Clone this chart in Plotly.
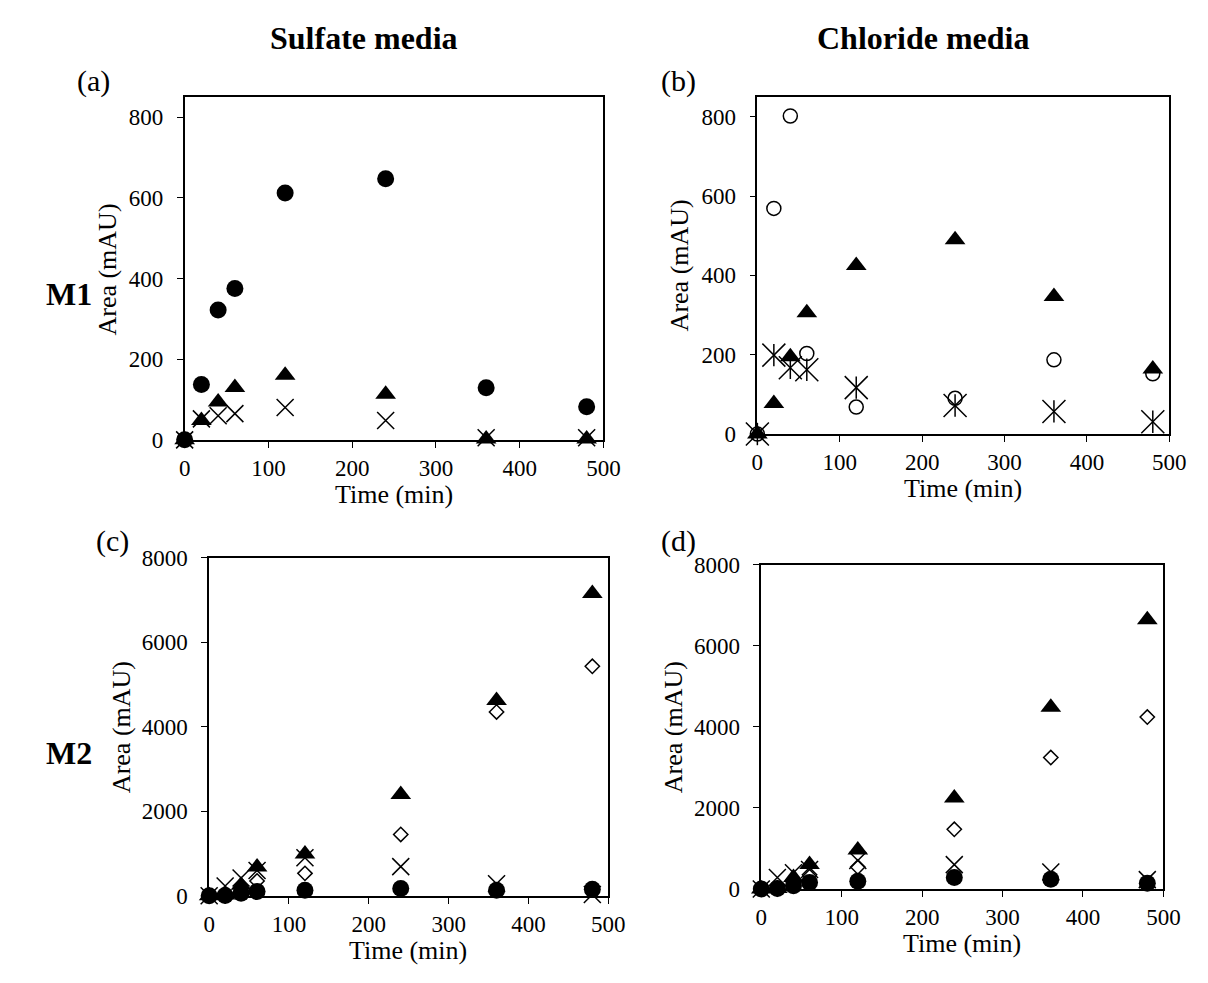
import plotly.graph_objects as go

# page is 1208x983; the html body has an 8px margin, so the figure is inset
OFF = 8
W, H = 1208 - 2 * OFF, 983 - 2 * OFF

time_min = [0, 20, 40, 60, 120, 240, 360, 480]

# (a) Sulfate media, M1
a_circle = [0, 137, 322, 375, 612, 647, 129, 82]
a_triangle = [0, 48, 94, 130, 160, 113, 2, 2]
a_cross = [0, 52, 60, 65, 80, 48, 5, 5]

# (b) Chloride media, M1
b_circle_open = [0, 569, 802, 203, 68, 90, 187, 152]
b_triangle = [0, 77, 195, 306, 425, 490, 347, 164]
b_star = [0, 199, 167, 162, 117, 72, 57, 31]

# (c) Sulfate media, M2
c_circle = [0, 5, 60, 100, 130, 170, 130, 155]
c_diamond = [0, 0, 100, 350, 530, 1450, 4350, 5430]
c_triangle = [0, 20, 250, 680, 990, 2395, 4620, 7155]
c_cross = [0, 230, 420, 600, 900, 690, 285, 30]

# (d) Chloride media, M2
d_circle = [0, 10, 80, 160, 190, 280, 240, 140]
d_diamond = [0, 0, 150, 350, 540, 1470, 3240, 4240]
d_triangle = [0, 10, 280, 600, 960, 2240, 4480, 6640]
d_cross = [0, 280, 400, 480, 700, 600, 420, 230]

x_ticks = [0, 100, 200, 300, 400, 500]
y_ticks_m1 = [0, 200, 400, 600, 800]
y_ticks_m2 = [0, 2000, 4000, 6000, 8000]

FONT = "Liberation Serif"
BLACK = "#000000"


def px(x):
    return (x - OFF) / W


def py(y):
    return 1 - (y - OFF) / H


fig = go.Figure()


def add(xa, ya, y, symbol, size, lw=1.5):
    fig.add_trace(go.Scatter(
        x=time_min, y=y, mode="markers", xaxis=xa, yaxis=ya,
        cliponaxis=False, showlegend=False,
        marker=dict(symbol=symbol, size=size, color=BLACK,
                    line=dict(color=BLACK, width=lw)),
    ))


# panel a
add("x", "y", a_cross, "x-thin-open", 17)
add("x", "y", a_triangle, "triangle-up", 18, 0)
add("x", "y", a_circle, "circle", 17, 0)
# panel b
add("x2", "y2", b_circle_open, "circle-open", 14)
add("x2", "y2", b_triangle, "triangle-up", 18, 0)
add("x2", "y2", b_star, "x-thin-open", 23)
add("x2", "y2", b_star, "line-ns-open", 16)
# panel c
add("x3", "y3", c_circle, "circle", 17, 0)
add("x3", "y3", c_diamond, "diamond-open", 11)
add("x3", "y3", c_triangle, "triangle-up", 18, 0)
add("x3", "y3", c_cross, "x-thin-open", 17)
# panel d
add("x4", "y4", d_circle, "circle", 17, 0)
add("x4", "y4", d_diamond, "diamond-open", 11)
add("x4", "y4", d_triangle, "triangle-up", 18, 0)
add("x4", "y4", d_cross, "x-thin-open", 17)

# panel frames in page pixels: (left, right, top, bottom)
frames = {
    "1": (182, 609, 87, 439),
    "2": (766, 1186, 87, 433),
    "3": (207, 614, 560, 907),
    "4": (770, 1180, 567, 900),
}
yranges = {"1": [0, 850], "2": [0, 850], "3": [0, 8000], "4": [0, 8000]}
yticks = {"1": y_ticks_m1, "2": y_ticks_m1, "3": y_ticks_m2, "4": y_ticks_m2}

common = dict(
    showline=True, linecolor=BLACK, linewidth=1.6, mirror=True,
    ticks="outside", ticklen=6, tickwidth=1.4, tickcolor=BLACK,
    showgrid=False, zeroline=False,
    tickfont=dict(family=FONT, size=23, color=BLACK),
)

layout = {}
for k, (l, r, t, b) in frames.items():
    sx = "" if k == "1" else k
    layout["xaxis" + sx] = dict(
        domain=[px(l), px(r)], range=[0, 500], tickvals=x_ticks,
        anchor="y" + sx, ticklabelstandoff=1, **common)
    layout["yaxis" + sx] = dict(
        domain=[py(b), py(t)], range=yranges[k], tickvals=yticks[k],
        anchor="x" + sx, ticklabelstandoff=9, **common)

fig.update_layout(
    width=W, height=H,
    margin=dict(l=0, r=0, t=0, b=0),
    paper_bgcolor="white", plot_bgcolor="white",
    font=dict(family=FONT, color=BLACK),
    **layout,
)


def ann(text, x, y, size, bold=False, angle=0):
    fig.add_annotation(
        text=f"<b>{text}</b>" if bold else text,
        x=px(x), y=py(y), xref="paper", yref="paper",
        xanchor="center", yanchor="middle", showarrow=False,
        textangle=angle, font=dict(family=FONT, size=size, color=BLACK),
    )


ann("Sulfate media", 365, 26, 32, bold=True)
ann("Chloride media", 935, 26, 32, bold=True)
ann("M1", 64, 289, 32, bold=True)
ann("M2", 64, 760, 32, bold=True)
ann("(a)", 89, 71, 30)
ann("(b)", 686, 71, 30)
ann("(c)", 108, 543, 30)
ann("(d)", 686, 543, 30)

# axis titles
ann("Area (mAU)", 103, 264, 26, angle=-90)
ann("Area (mAU)", 687, 260, 26, angle=-90)
ann("Area (mAU)", 117, 734, 26, angle=-90)
ann("Area (mAU)", 680, 734, 26, angle=-90)
ann("Time (min)", 395, 495, 26)
ann("Time (min)", 976, 489, 26)
ann("Time (min)", 410, 963, 26)
ann("Time (min)", 975, 956, 26)

fig.write_html("out.html")
